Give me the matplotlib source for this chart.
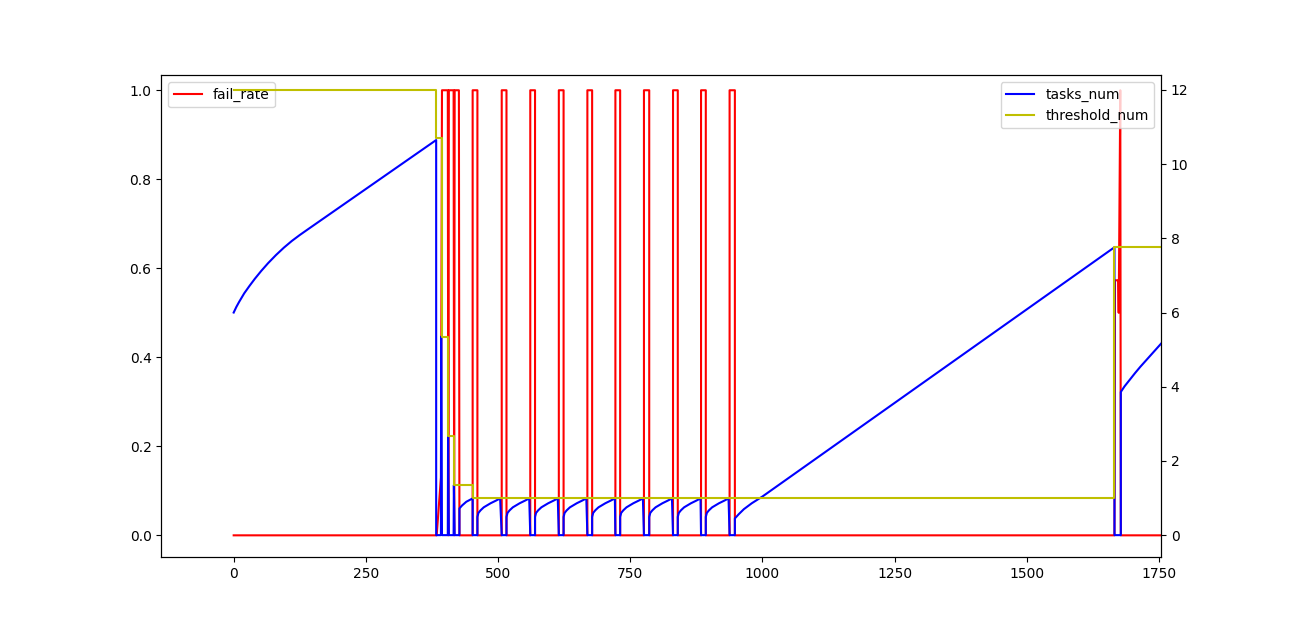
import matplotlib
matplotlib.use("Agg")
import matplotlib.pyplot as plt

# ---- values ----
# fail_rate before the periodic spikes (step, value)
fail_x_start = [0, 384, 392, 394, 405, 406, 407, 416, 417, 418, 426, 427]
fail_y_start = [0, 0, 0.13, 1, 1, 0, 1, 1, 0, 1, 1, 0]
# periodic fail spikes: fail_rate == 1 between on and off
spike_on = [452, 507, 561, 615, 669, 722, 776, 831, 884, 938]
spike_off = [461, 516, 570, 624, 678, 731, 786, 840, 893, 948]
# fail_rate burst at the end
fail_x_end = [1666, 1667, 1673, 1674, 1677, 1678, 1754]
fail_y_end = [0, 0.573, 0.573, 0.5, 1.0, 0, 0]

# tasks_num: warm-up ramp
tasks_x_start = [0, 5, 10, 20, 30, 40, 52, 65, 80, 95, 110, 125, 140, 383]
tasks_y_start = [6.0, 6.15, 6.28, 6.52, 6.72, 6.91, 7.12, 7.33, 7.55, 7.75, 7.93, 8.09, 8.24, 10.65]
# tasks_num: collapse after first failure
tasks_x_burst = [383, 392, 392.5, 394, 405, 405.5, 407, 416, 416.5, 418, 427, 427, 432, 440, 452]
tasks_y_burst = [0, 0, 5.35, 0, 0, 2.68, 0, 0, 1.35, 0, 0, 0.72, 0.8, 0.9, 0.99]
# tasks_num recovery shape after each spike (offset from spike end, value)
rise_dt = [0, 0, 2, 6, 12, 25, 35, 43]
rise_val = [0, 0.49, 0.6, 0.67, 0.75, 0.86, 0.93, 0.99]
# tasks_num: long ramp after the last spike, and the end
tasks_x_ramp = [948, 948, 955, 965, 980, 1000, 1666, 1666, 1678, 1678,
                1685, 1695, 1705, 1715, 1725, 1735, 1745, 1754]
tasks_y_ramp = [0, 0.45, 0.56, 0.7, 0.86, 1.04, 7.76, 0, 0, 3.86,
                4.01, 4.19, 4.37, 4.54, 4.7, 4.86, 5.02, 5.16]

# threshold_num change points
thr_x = [0, 383, 394, 406, 417, 452, 1666, 1754]
thr_y = [12, 10.7, 5.35, 2.68, 1.35, 1.0, 7.76, 7.76]

# ---- assemble series ----
fail_x = list(fail_x_start)
fail_y = list(fail_y_start)
for on, off in zip(spike_on, spike_off):
    fail_x += [on, on, off, off]
    fail_y += [0, 1, 1, 0]
fail_x += fail_x_end
fail_y += fail_y_end

tasks_x = tasks_x_start + tasks_x_burst
tasks_y = tasks_y_start + tasks_y_burst
for i, (on, off) in enumerate(zip(spike_on, spike_off)):
    tasks_x += [on, off]
    tasks_y += [0, 0]
    if i < len(spike_on) - 1:
        tasks_x += [off + d for d in rise_dt]
        tasks_y += rise_val
tasks_x += tasks_x_ramp
tasks_y += tasks_y_ramp

fig = plt.figure(figsize=(12.9, 6.26), dpi=100)
ax1 = plt.gca()
ax1.plot(fail_x, fail_y, 'r', label='fail_rate')
ax1.legend(loc='upper left')

ax2 = ax1.twinx()
ax2.plot(tasks_x, tasks_y, 'b', label='tasks_num')
ax2.step(thr_x, thr_y, 'y', where='post', label='threshold_num')
ax2.legend(loc='upper right')

ax1.set_xlim(-137, 1754)
ax1.set_ylim(-0.049, 1.034)
ax2.set_ylim(-0.593, 12.40)
plt.savefig('out.png')
